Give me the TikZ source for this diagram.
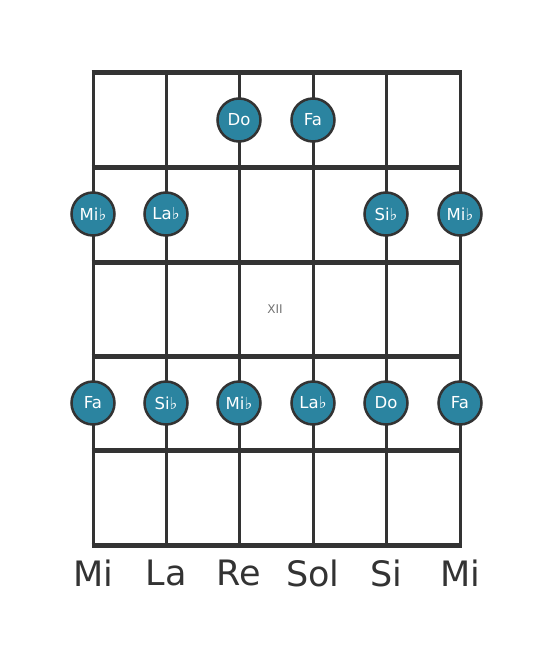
\documentclass[tikz,border=0pt]{standalone}
\usepackage{fontspec}
\setmainfont{DejaVu Sans}
\begin{document}
\begin{tikzpicture}[x=1pt,y=-1pt,
  fret/.style={line width=5pt,draw=black!80},
  string/.style={line width=3pt,draw=black!80},
  note/.style={circle,minimum size=43pt,inner sep=0pt,fill=notecol,draw=black!80,line width=2.5pt,text=white,font=\fontsize{16.5}{16.5}\selectfont},
  tun/.style={font=\fontsize{35}{35}\selectfont,text=black!80},
]
\definecolor{notecol}{HTML}{2B84A0}
\useasboundingbox (0,0) rectangle (553,656);
\foreach \i/\x in {1/93,2/166,3/239,4/313,5/386,6/460}{
  \coordinate (st\i) at (\x,72);
  \coordinate (sb\i) at (\x,545);
  \draw[string] (st\i) -- (sb\i);
}
\foreach \j/\y in {1/72,2/167,3/262,4/356,5/450,6/545}{
  \coordinate (fl\j) at (91.5,\y);
  \coordinate (fr\j) at (461.5,\y);
  \draw[fret] (fl\j) -- (fr\j);
}
\node[note] (n1) at (239,120) {Do};
\node[note] (n2) at (313,120) {Fa};
\node[note] (n3) at (93,214) {Mi♭};
\node[note] (n4) at (166,214) {La♭};
\node[note] (n5) at (386,214) {Si♭};
\node[note] (n6) at (460,214) {Mi♭};
\node[note] (n7) at (93,403) {Fa};
\node[note] (n8) at (166,403) {Si♭};
\node[note] (n9) at (239,403) {Mi♭};
\node[note] (n10) at (313,403) {La♭};
\node[note] (n11) at (386,403) {Do};
\node[note] (n12) at (460,403) {Fa};
\node[font=\fontsize{12}{12}\selectfont,text=black!55] (xii) at (275,309) {XII};
\node[tun] (t1) at (93,573) {Mi};
\node[tun] (t2) at (166,573) {La};
\node[tun] (t3) at (239,573) {Re};
\node[tun] (t4) at (313,573) {Sol};
\node[tun] (t5) at (386,573) {Si};
\node[tun] (t6) at (460,573) {Mi};
\end{tikzpicture}
\end{document}
